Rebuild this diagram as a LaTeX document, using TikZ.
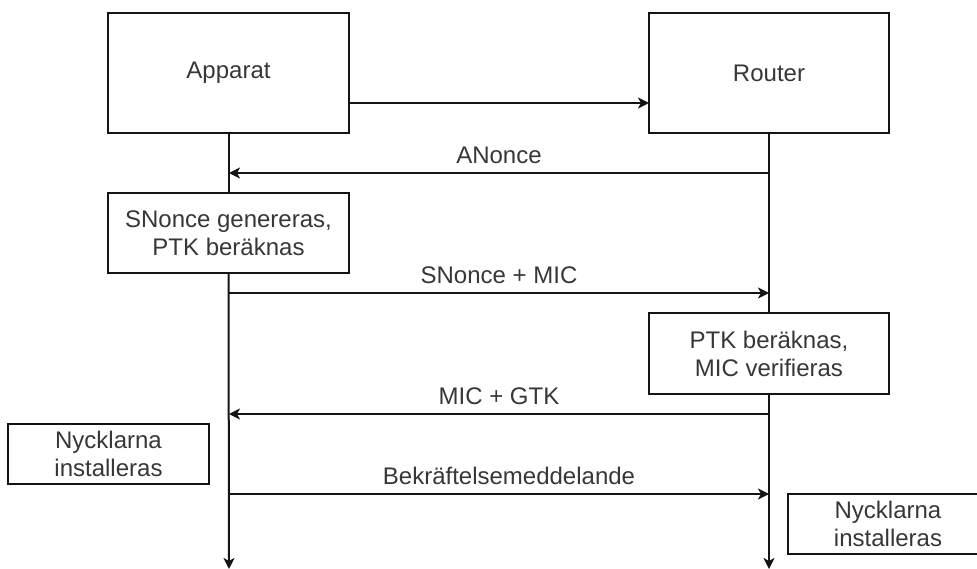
\documentclass[tikz,border=0pt]{standalone}
\usepackage{fontspec}
\setmainfont{Liberation Sans}
\usetikzlibrary{arrows.meta}
\definecolor{txt}{RGB}{55,55,55}
\definecolor{ln}{RGB}{20,20,20}
\begin{document}
\begin{tikzpicture}[x=1pt,y=-1pt,
  box/.style={draw=ln,line width=2pt,fill=white,align=center,text=txt,inner sep=0pt,
    font=\fontsize{24}{28}\selectfont},
  lbl/.style={text=txt,font=\fontsize{24}{28}\selectfont,inner sep=0pt},
  msg/.style={draw=ln,line width=2pt,-{Stealth[length=11pt,width=11pt,inset=3pt]}},
  life/.style={draw=ln,line width=2pt}]
\useasboundingbox (0,0) rectangle (977,569);
\node[box,minimum width=241pt,minimum height=120pt] (app) at (228.5,73) {Apparat};
\node[box,minimum width=240pt,minimum height=120pt] (rt) at (769,73) {Router};
\node[box,minimum width=241pt,minimum height=80pt] (sn) at (228.5,233) {SNonce genereras,\\PTK beräknas};
\node[box,minimum width=240pt,minimum height=81pt] (ptk) at (769,353.5) {PTK beräknas,\\MIC verifieras};
\node[box,minimum width=201pt,minimum height=60pt] (nl) at (108.5,454) {Nycklarna\\installeras};
\node[box,minimum width=200pt,minimum height=60pt] (nr) at (888,524) {Nycklarna\\installeras};
% lifelines
\coordinate (appEnd) at (229,569);
\coordinate (rtEnd) at (769,569);
\draw[life] (app.south) -- (sn.north);
\draw[msg] (sn.south) -- (appEnd);
\draw[life] (rt.south) -- (ptk.north);
\draw[msg] (ptk.south) -- (rtEnd);
% messages
\coordinate (m0a) at (349,103); \coordinate (m0b) at (649,103);
\draw[msg] (m0a) -- (m0b);
\coordinate (m1a) at (769,173); \coordinate (m1b) at (229,173);
\draw[msg] (m1a) -- (m1b);
\node[lbl] (l1) at (499,155) {ANonce};
\coordinate (m2a) at (229,293); \coordinate (m2b) at (769,293);
\draw[msg] (m2a) -- (m2b);
\node[lbl] (l2) at (499,275) {SNonce + MIC};
\coordinate (m3a) at (769,414); \coordinate (m3b) at (229,414);
\draw[msg] (m3a) -- (m3b);
\node[lbl] (l3) at (499,396) {MIC + GTK};
\coordinate (m4a) at (229,494); \coordinate (m4b) at (769,494);
\draw[msg] (m4a) -- (m4b);
\node[lbl] (l4) at (509,476) {Bekräftelsemeddelande};
\end{tikzpicture}
\end{document}
